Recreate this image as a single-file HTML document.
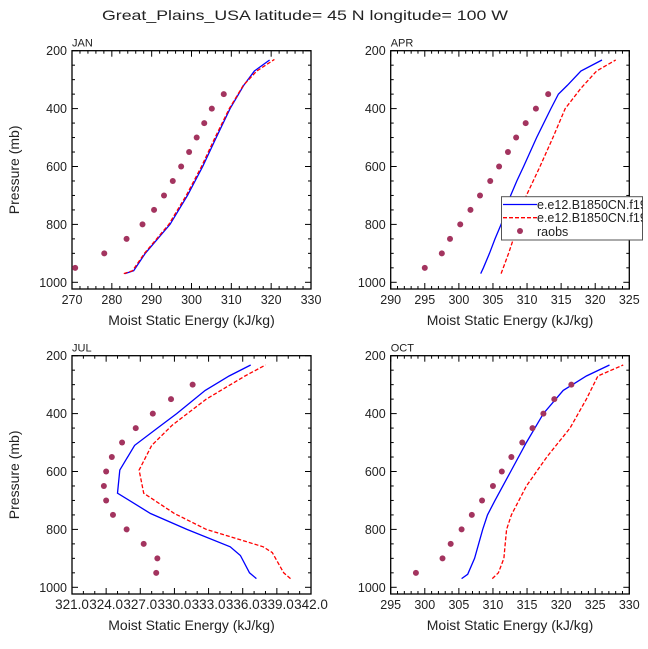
<!DOCTYPE html>
<html><head><meta charset="utf-8">
<style>
html,body{margin:0;padding:0;background:#fff;}
svg{display:block;font-family:"Liberation Sans","DejaVu Sans",sans-serif;}
</style></head>
<body>
<svg id="chart" width="648" height="649" viewBox="0 0 648 649" xmlns="http://www.w3.org/2000/svg">
<text x="305" y="20" text-anchor="middle" font-size="14" fill="#222" textLength="406" lengthAdjust="spacingAndGlyphs">Great_Plains_USA  latitude= 45 N longitude= 100 W</text>
</svg>
<script>
// ---- data ----
const pressureTicks = [200,400,600,800,1000];
const janXTicks = [270,280,290,300,310,320,330];
const aprXTicks = [290,295,300,305,310,315,320,325];
const julXTicks = [321.0,324.0,327.0,330.0,333.0,336.0,339.0,342.0];
const octXTicks = [295,300,305,310,315,320,325,330];

const obsP = [950,900,850,800,750,700,650,600,550,500,450,400,350];
const janObs = [270.8,278.1,283.7,287.7,290.6,293.1,295.3,297.4,299.4,301.3,303.2,305.1,308.1];
const aprObs = [295.0,297.5,298.7,300.2,301.7,303.1,304.6,305.9,307.2,308.4,309.8,311.3,313.1];
const julObsP = [950,900,850,800,750,700,650,600,550,500,450,400,350,300];
const julObs = [328.4,328.5,327.3,325.8,324.6,324.0,323.8,324.0,324.5,325.4,326.6,328.1,329.7,331.6];
const octObsP = [950,900,850,800,750,700,650,600,550,500,450,400,350,300];
const octObs = [298.7,302.6,303.8,305.4,306.9,308.4,310.0,311.3,312.7,314.3,315.8,317.4,319.0,321.5];

const janModP = [970,960,900,800,700,600,500,400,320,270,232];
const janBlue = [283.3,285.5,288.4,294.6,299.0,302.8,306.2,309.7,313.1,315.8,319.6];
const janRedP = [970,960,900,800,700,600,500,400,320,270,230];
const janRed = [283.0,285.2,288.2,294.3,298.7,302.5,305.9,309.5,313.0,316.4,320.8];

const aprBlueP = [970,950,900,850,800,750,700,650,600,500,400,350,320,270,232];
const aprBlue = [303.2,303.6,304.5,305.3,306.2,306.9,307.6,308.5,309.5,311.4,313.5,314.6,315.9,317.9,321.0];
const aprRedP = [970,900,850,800,750,700,650,600,500,400,330,270,232];
const aprRed = [306.2,307.3,308.0,308.6,309.2,309.9,310.9,311.9,313.8,315.6,317.9,320.2,323.0];

const julBlueP = [970,950,890,860,800,745,675,595,510,450,400,320,270,232];
const julBlue = [337.2,336.6,335.8,334.9,331.1,327.9,325.0,325.2,326.5,328.5,330.2,332.7,334.8,336.7];
const julRedP = [970,950,880,860,800,745,675,595,510,440,350,270,232];
const julRed = [340.2,339.6,338.6,337.8,332.8,330.0,327.3,326.9,328.0,329.8,332.8,336.2,338.0];

const octBlueP = [970,955,900,800,750,700,600,500,400,320,270,232];
const octBlue = [305.4,306.3,307.3,308.5,309.2,310.3,312.6,314.9,317.4,320.3,323.7,327.1];
const octRedP = [970,950,900,850,800,750,650,550,450,350,270,232];
const octRed = [309.9,310.8,311.6,311.8,312.0,312.7,314.9,317.9,321.3,323.7,325.4,329.1];

const legendLabels = ["e.e12.B1850CN.f19_g16.001","e.e12.B1850CN.f19_g16.002","raobs"];

// ---- drawing ----
const NS="http://www.w3.org/2000/svg";
const svg=document.getElementById('chart');
function mk(tag,attrs,parent){const e=document.createElementNS(NS,tag);for(const k in attrs)e.setAttribute(k,attrs[k]);(parent||svg).appendChild(e);return e;}
const TXT="#222";

function panel(cfg){
  const g=mk('g',{});
  
  
  const L=cfg.left,R=cfg.right,T=cfg.top,B=T+238.3;
  const xmin=cfg.xt[0],xmax=cfg.xt[cfg.xt.length-1];
  const xs=v=>L+(v-xmin)/(xmax-xmin)*(R-L);
  const ys=p=>T+(p-200)*0.2895;
  const fr=mk('rect',{x:L,y:T,width:R-L,height:B-T,fill:'none',stroke:'#000','stroke-width':1.3},g);
  
  
  const step=(cfg.xt[1]-cfg.xt[0])/cfg.minor;
  for(let i=0;i<=(cfg.xt.length-1)*cfg.minor;i++){
    const v=xmin+i*step, x=xs(v), maj=i%cfg.minor===0, len=maj?6:3;
    mk('line',{x1:x,y1:B,x2:x,y2:B-len,stroke:'#000','stroke-width':1},g);
    mk('line',{x1:x,y1:T,x2:x,y2:T+len,stroke:'#000','stroke-width':1},g);
  }
  cfg.xt.forEach((v,i)=>{
    const t=mk('text',{x:xs(v),y:B+15,'text-anchor':'middle','font-size':cfg.xfs||12.5,fill:TXT},g);
    
    
    t.textContent=cfg.xfmt?cfg.xfmt(v):String(v);
  });
  for(let p=200;p<=1000;p+=50){
    const y=ys(p),maj=p%200===0,len=maj?6:3;
    mk('line',{x1:L,y1:y,x2:L+len,y2:y,stroke:'#000','stroke-width':1},g);
    mk('line',{x1:R,y1:y,x2:R-len,y2:y,stroke:'#000','stroke-width':1},g);
  }
  pressureTicks.forEach(p=>{
    const t=mk('text',{x:L-5,y:ys(p)+4.5,'text-anchor':'end','font-size':12.5,fill:TXT},g);
    
    
    t.textContent=p;
  });
  const lab=mk('text',{x:L,y:T-4,'font-size':11,fill:TXT},g);
  
  
  lab.textContent=cfg.label;
  const xt=mk('text',{x:(L+R)/2,y:B+36,'text-anchor':'middle','font-size':14,fill:TXT},g);
  
  
  xt.textContent='Moist Static Energy (kJ/kg)';
  if(cfg.ytitle){
    const yt=mk('text',{x:0,y:0,'text-anchor':'middle','font-size':14,fill:TXT,transform:`translate(19,${(T+B)/2}) rotate(-90)`},g);
    
    
    yt.textContent='Pressure (mb)';
  }
  const path=(vals,ps)=>vals.map((v,i)=>(i?'L':'M')+xs(v).toFixed(1)+','+ys(ps[i]).toFixed(1)).join(' ');
  const b=mk('path',{d:path(cfg.blue,cfg.blueP),fill:'none',stroke:'#0000ff','stroke-width':1.3},g);
  
  
  const r=mk('path',{d:path(cfg.red,cfg.redP),fill:'none',stroke:'#ff0000','stroke-width':1.3,'stroke-dasharray':'4,2'},g);
  
  
  cfg.obs.forEach((v,i)=>{
    const c=mk('circle',{cx:xs(v),cy:ys(cfg.obsP[i]),r:3,fill:'#a3345f'},g);
    
    
  });
}

panel({name:'jan',label:'JAN',left:72,right:311,top:50.7,xt:janXTicks,minor:5,ytitle:true,
  obs:janObs,obsP:obsP,blue:janBlue,blueP:janModP,red:janRed,redP:janRedP});
panel({name:'apr',label:'APR',left:390.7,right:629.3,top:50.7,xt:aprXTicks,minor:5,
  obs:aprObs,obsP:obsP,blue:aprBlue,blueP:aprBlueP,red:aprRed,redP:aprRedP});
panel({name:'jul',label:'JUL',left:72,right:311,top:355.7,xt:julXTicks,minor:3,ytitle:true,xfs:13.5,xfmt:v=>v.toFixed(1),
  obs:julObs,obsP:julObsP,blue:julBlue,blueP:julBlueP,red:julRed,redP:julRedP});
panel({name:'oct',label:'OCT',left:390.7,right:629.3,top:355.7,xt:octXTicks,minor:5,
  obs:octObs,obsP:octObsP,blue:octBlue,blueP:octBlueP,red:octRed,redP:octRedP});

// legend
const lg=mk('g',{});


mk('clipPath',{id:'lgclip'},lg).appendChild(mk('rect',{x:501,y:196,width:141.5,height:45},lg));
const lbox=mk('rect',{x:501.5,y:196.7,width:141,height:43.3,fill:'#fff',stroke:'#555','stroke-width':1},lg);


const le1=mk('line',{x1:503,y1:204.5,x2:537,y2:204.5,stroke:'#0000ff','stroke-width':1.3},lg);


const le2=mk('line',{x1:503,y1:217.7,x2:537,y2:217.7,stroke:'#ff0000','stroke-width':1.3,'stroke-dasharray':'4,2'},lg);


const le3=mk('circle',{cx:520,cy:231,r:3,fill:'#a3345f'},lg);


[209,222,236].forEach((y,i)=>{
  const t=mk('text',{x:537,y:y,'font-size':12.5,fill:TXT,'clip-path':'url(#lgclip)'},lg);
  
  
  t.textContent=legendLabels[i];
});
</script>
</body></html>
